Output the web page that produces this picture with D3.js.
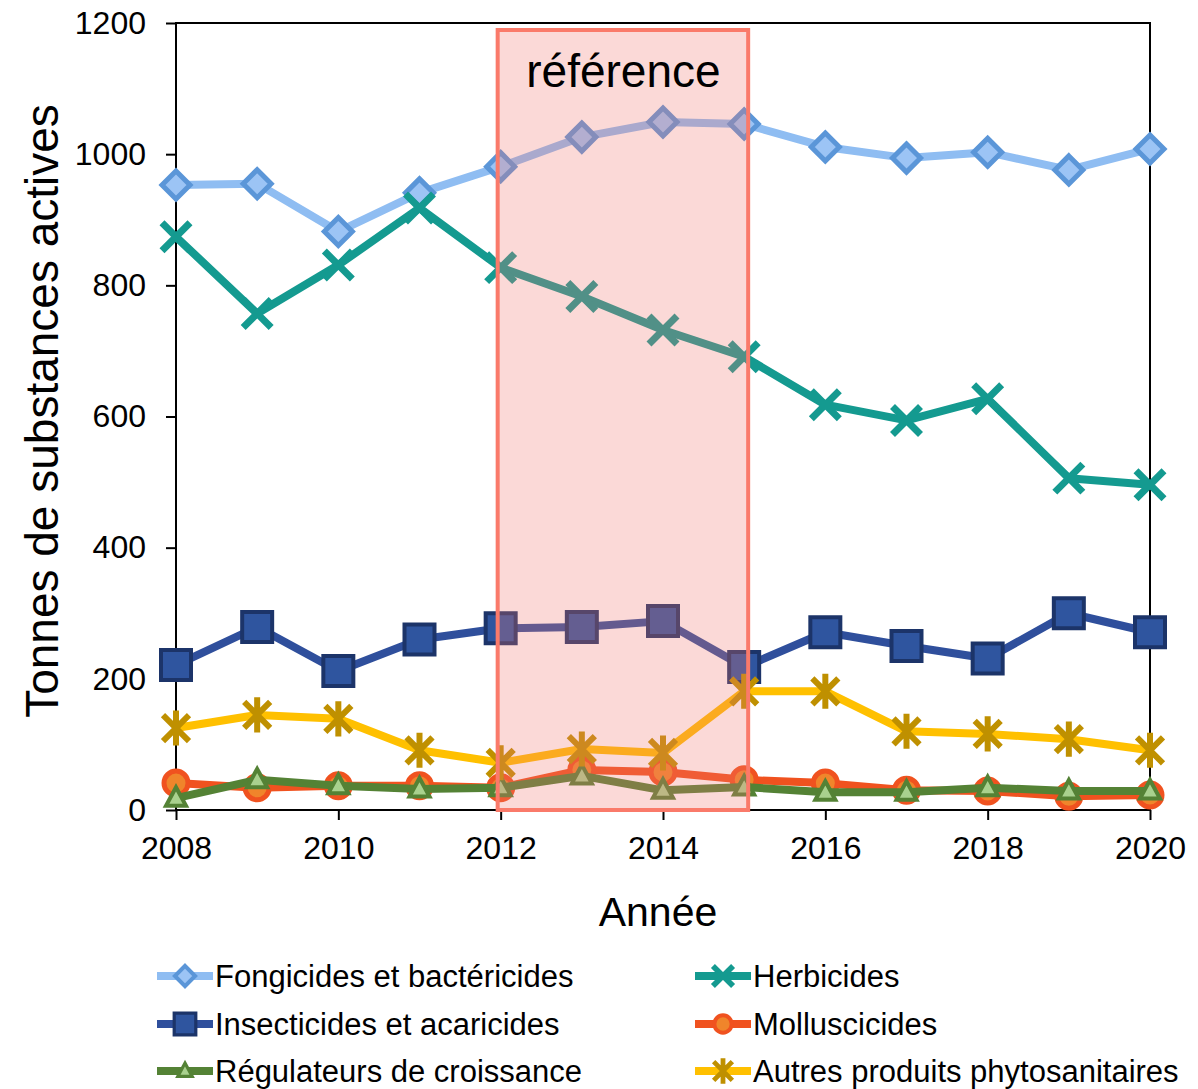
<!DOCTYPE html>
<html>
<head>
<meta charset="utf-8">
<script src="https://cdn.jsdelivr.net/npm/d3@7"></script>
<style>
  body { margin: 0; background: #fff; }
  svg { display: block; font-family: "Liberation Sans", Arial, sans-serif; }
</style>
</head>
<body>
<svg id="chart" width="1198" height="1089"></svg>
<script>
// years on the x axis
var years = [2008, 2009, 2010, 2011, 2012, 2013, 2014, 2015, 2016, 2017, 2018, 2019, 2020];

// tonnes of active substances
var fongicides    = [953, 955, 882, 941, 981, 1026, 1049, 1046, 1011, 994, 1003, 976, 1008];
var herbicides    = [874, 757, 831, 918, 827, 783, 732, 691, 618, 594, 627, 506, 496];
var insecticides  = [221, 279, 212, 260, 277, 279, 288, 218, 271, 250, 231, 300, 271];
var molluscicides = [41, 34, 37, 37, 34, 61, 58, 46, 41, 30, 29, 21, 23];
var regulateurs   = [18, 46, 37, 32, 34, 52, 30, 35, 27, 27, 34, 29, 29];
var autres        = [125, 145, 139, 91, 72, 93, 87, 181, 181, 120, 116, 108, 91];

var yTicks = [0, 200, 400, 600, 800, 1000, 1200];
var xTicks = [2008, 2010, 2012, 2014, 2016, 2018, 2020];
var refPeriod = [2012, 2015];

var series = [
  { name: "Fongicides et bactéricides", values: fongicides, line: "#8fbdf2", marker: "diamond", fill: "#9cc4f5", stroke: "#5b96d8" },
  { name: "Herbicides", values: herbicides, line: "#149a90", marker: "x", fill: "none", stroke: "#149a90" },
  { name: "Insecticides et acaricides", values: insecticides, line: "#2f4f9c", marker: "square", fill: "#2f559f", stroke: "#1c3469" },
  { name: "Molluscicides", values: molluscicides, line: "#f0521f", marker: "circle", fill: "#f0852b", stroke: "#f0521f" },
  { name: "Régulateurs de croissance", values: regulateurs, line: "#548235", marker: "triangle", fill: "#a9d18e", stroke: "#548235" },
  { name: "Autres produits phytosanitaires", values: autres, line: "#ffc000", marker: "star", fill: "none", stroke: "#bf9000" }
];

var svg = d3.select("#chart");
var plotLeft = 176, plotRight = 1150, plotTop = 23, plotBottom = 810;

var x = d3.scaleLinear().domain([2008, 2020]).range([plotLeft, plotRight]);
var y = d3.scaleLinear().domain([0, 1200]).range([plotBottom, plotTop]);

// marker path, centered on 0,0, with size factor s
function markerPath(type, s) {
  var p = d3.path();
  if (type == "diamond") {
    p.moveTo(0, -s); p.lineTo(s, 0); p.lineTo(0, s); p.lineTo(-s, 0); p.closePath();
  } else if (type == "square") {
    p.rect(-s, -s, 2 * s, 2 * s);
  } else if (type == "circle") {
    p.moveTo(s, 0);
    p.arc(0, 0, s, 0, 2 * Math.PI);
  } else if (type == "triangle") {
    p.moveTo(0, -s * 1.1); p.lineTo(s, s * 0.75); p.lineTo(-s, s * 0.75); p.closePath();
  } else if (type == "x") {
    p.moveTo(-s, -s); p.lineTo(s, s); p.moveTo(-s, s); p.lineTo(s, -s);
  } else if (type == "star") {
    p.moveTo(-s, -s); p.lineTo(s, s); p.moveTo(-s, s); p.lineTo(s, -s);
    p.moveTo(0, -s * 1.35); p.lineTo(0, s * 1.35);
  }
  return p.toString();
}
var markerSize = { diamond: 14, square: 15, circle: 12, triangle: 10, x: 14, star: 13 };
var markerWidth = { diamond: 5, square: 4, circle: 5, triangle: 4, x: 7, star: 6 };

// frame + axes
svg.append("rect")
  .attr("x", plotLeft).attr("y", plotTop)
  .attr("width", plotRight - plotLeft).attr("height", plotBottom - plotTop)
  .attr("fill", "none").attr("stroke", "#000").attr("stroke-width", 2);

var yAxis = svg.append("g")
  .attr("transform", `translate(${plotLeft},0)`)
  .call(d3.axisLeft(y).tickValues(yTicks).tickSize(10).tickPadding(20).tickFormat(d3.format("d")));
yAxis.select(".domain").remove();
yAxis.selectAll(".tick line").attr("stroke", "#000").attr("stroke-width", 2);
yAxis.selectAll(".tick text").attr("font-size", 32).attr("fill", "#000")
  .attr("font-family", "Liberation Sans, Arial, sans-serif");

var xAxis = svg.append("g")
  .attr("transform", `translate(0,${plotBottom})`)
  .call(d3.axisBottom(x).tickValues(xTicks).tickSize(10).tickPadding(16).tickFormat(d3.format("d")));
xAxis.select(".domain").remove();
xAxis.selectAll(".tick line").attr("stroke", "#000").attr("stroke-width", 2);
xAxis.selectAll(".tick text").attr("font-size", 32).attr("fill", "#000")
  .attr("font-family", "Liberation Sans, Arial, sans-serif");

// series lines and markers
var line = d3.line().x((d, i) => x(years[i])).y(d => y(d));

series.forEach(function(s) {
  var g = svg.append("g");
  g.append("path")
    .attr("d", line(s.values))
    .attr("fill", "none")
    .attr("stroke", s.line)
    .attr("stroke-width", 8)
    .attr("stroke-linejoin", "round");
  g.selectAll("path.mk")
    .data(s.values)
    .enter().append("path")
    .attr("class", "mk")
    .attr("transform", (d, i) => `translate(${x(years[i])},${y(d)})`)
    .attr("d", markerPath(s.marker, markerSize[s.marker]))
    .attr("fill", s.fill)
    .attr("stroke", s.stroke)
    .attr("stroke-width", markerWidth[s.marker])
    .attr("stroke-linejoin", "miter");
});

// reference period box, drawn over the lines
svg.append("rect")
  .attr("x", x(refPeriod[0]) - 3)
  .attr("y", plotTop + 7)
  .attr("width", x(refPeriod[1]) - x(refPeriod[0]) + 7)
  .attr("height", plotBottom - plotTop - 7)
  .attr("fill", "rgba(240,120,110,0.28)")
  .attr("stroke", "#fa7a6a")
  .attr("stroke-width", 4);

svg.append("text")
  .attr("x", (x(refPeriod[0]) + x(refPeriod[1])) / 2 + 1)
  .attr("y", 87)
  .attr("text-anchor", "middle")
  .attr("font-size", 46)
  .text("référence");

// axis titles
svg.append("text")
  .attr("x", (plotLeft + plotRight) / 2 - 5)
  .attr("y", 926)
  .attr("text-anchor", "middle")
  .attr("font-size", 41)
  .text("Année");

svg.append("text")
  .attr("transform", "translate(58,411) rotate(-90)")
  .attr("text-anchor", "middle")
  .attr("font-size", 46)
  .text("Tonnes de substances actives");

// legend, two columns
var legendCols = [157, 695];
var legendRows = [976, 1024, 1071];
var leg = svg.append("g");
series.forEach(function(s, i) {
  var lx = legendCols[i % 2], ly = legendRows[Math.floor(i / 2)];
  var g = leg.append("g").attr("transform", `translate(${lx},${ly})`);
  g.append("line")
    .attr("x1", 0).attr("x2", 56).attr("y1", 0).attr("y2", 0)
    .attr("stroke", s.line).attr("stroke-width", 8);
  g.append("path")
    .attr("transform", "translate(28,0)")
    .attr("d", markerPath(s.marker, markerSize[s.marker] * 0.72))
    .attr("fill", s.fill)
    .attr("stroke", s.stroke)
    .attr("stroke-width", markerWidth[s.marker] * 0.8);
  g.append("text")
    .attr("x", 58).attr("y", 11)
    .attr("font-size", 31)
    .text(s.name);
});
</script>
</body>
</html>
